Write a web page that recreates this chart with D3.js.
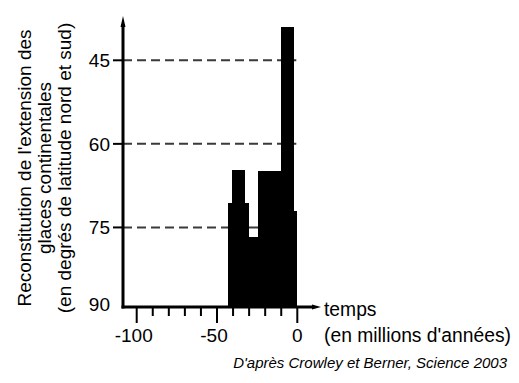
<!DOCTYPE html>
<html><head><meta charset="utf-8">
<script src="https://cdn.jsdelivr.net/npm/d3@7"></script>
<style>html,body{margin:0;padding:0;background:#fff;}svg{display:block;}</style>
</head><body>
<svg id="c" width="519" height="383"></svg>
<script>
// Data
const timeStart = [-43, -40.5, -33, -31, -24.5, -10, -2.5];
const timeEnd   = [-40.5, -33, -31, -24.5, -10, -2.5, 0];
const latitude  = [70.6, 64.7, 70.6, 76.7, 64.8, 39.0, 72.1];
const yTickValues = [45, 60, 75, 90];
const dashedLevels = [45, 60, 75];
const xMajorTicks = [-100, -50, 0];
const xMinorTicks = [-90, -80, -70, -60, -40, -30, -20, -10];
const yTitleLines = ["Reconstitution de l'extension des", "glaces continentales", "(en degrés de latitude nord et sud)"];
const xTitleLines = ["temps", "(en millions d'années)"];
const caption = "D'après Crowley et Berner, Science 2003";

const svg = d3.select("#c");
const font = "Liberation Sans, Arial, Helvetica, sans-serif";

const x = d3.scaleLinear().domain([-100, 0]).range([136.7, 297.3]);
const y = d3.scaleLinear().domain([45, 90]).range([60.3, 311]);
const axisY = y(90) - 4;
const axisX = 123;

// dashed reference lines (under bars)
svg.selectAll("line.dash").data(dashedLevels).join("line")
  .attr("x1", axisX).attr("x2", x(0) - 1)
  .attr("y1", d => y(d)).attr("y2", d => y(d))
  .attr("stroke", "#3a3a3a").attr("stroke-width", 2)
  .attr("stroke-dasharray", "9,5");

// bars (edges snapped to whole pixels so neighbouring bars join without seams)
const bars = timeStart.map((s, i) => ({s, e: timeEnd[i], v: latitude[i]}));
svg.selectAll("rect.bar").data(bars).join("rect")
  .attr("x", d => Math.round(x(d.s)))
  .attr("width", d => Math.round(x(d.e)) - Math.round(x(d.s)) + (d.e < 0 ? 0.5 : 0))
  .attr("y", d => Math.round(y(d.v)))
  .attr("height", d => Math.round(axisY) - Math.round(y(d.v)))
  .attr("fill", "#000")
  .attr("shape-rendering", "crispEdges");

// y axis
svg.append("line").attr("x1", axisX).attr("x2", axisX)
  .attr("y1", axisY + 1.5).attr("y2", 24)
  .attr("stroke", "#000").attr("stroke-width", 3);
svg.append("path")
  .attr("d", `M${axisX - 2.5},27 L${axisX},16 L${axisX + 2.5},27 Z`)
  .attr("fill", "#000");

// y ticks
svg.selectAll("line.yt").data(dashedLevels).join("line")
  .attr("x1", axisX - 10).attr("x2", axisX)
  .attr("y1", d => y(d)).attr("y2", d => y(d))
  .attr("stroke", "#000").attr("stroke-width", 2);
svg.selectAll("text.yl").data(yTickValues).join("text")
  .attr("x", 110).attr("y", d => d === 90 ? axisY - 3 : y(d))
  .attr("dy", "0.36em").attr("text-anchor", "end")
  .attr("font-family", font).attr("font-size", 19).attr("fill", "#000")
  .text(d => d);

// x axis
svg.append("line").attr("x1", axisX - 1.5).attr("x2", 314)
  .attr("y1", axisY).attr("y2", axisY)
  .attr("stroke", "#000").attr("stroke-width", 3);
svg.append("path")
  .attr("d", `M312,${axisY - 2.5} L321,${axisY} L312,${axisY + 2.5} Z`)
  .attr("fill", "#000");

// x ticks
svg.selectAll("line.xmaj").data(xMajorTicks).join("line")
  .attr("x1", d => x(d)).attr("x2", d => x(d))
  .attr("y1", axisY).attr("y2", axisY + 16)
  .attr("stroke", "#000").attr("stroke-width", 2);
svg.selectAll("line.xmin").data(xMinorTicks).join("line")
  .attr("x1", d => x(d)).attr("x2", d => x(d))
  .attr("y1", axisY).attr("y2", axisY + 9)
  .attr("stroke", "#000").attr("stroke-width", 2);
svg.selectAll("text.xl").data(xMajorTicks).join("text")
  .attr("x", d => x(d) - (d < 0 ? 3 : 0)).attr("y", 342)
  .attr("text-anchor", "middle")
  .attr("font-family", font).attr("font-size", 19).attr("fill", "#000")
  .text(d => d);

// x title
svg.selectAll("text.xt").data(xTitleLines).join("text")
  .attr("x", 324).attr("y", (d, i) => 316 + i * 26)
  .attr("font-family", font).attr("font-size", 19.3).attr("fill", "#000")
  .text(d => d);

// y title
svg.selectAll("text.ytl").data(yTitleLines).join("text")
  .attr("transform", (d, i) => `translate(${31 + i * 20},168) rotate(-90)`)
  .attr("text-anchor", "middle")
  .attr("font-family", font).attr("font-size", 19).attr("fill", "#000")
  .text(d => d);

// caption
svg.append("text").attr("x", 507).attr("y", 368)
  .attr("text-anchor", "end")
  .attr("font-family", font).attr("font-size", 15).attr("font-style", "italic")
  .attr("fill", "#000").text(caption);
</script>
</body></html>
